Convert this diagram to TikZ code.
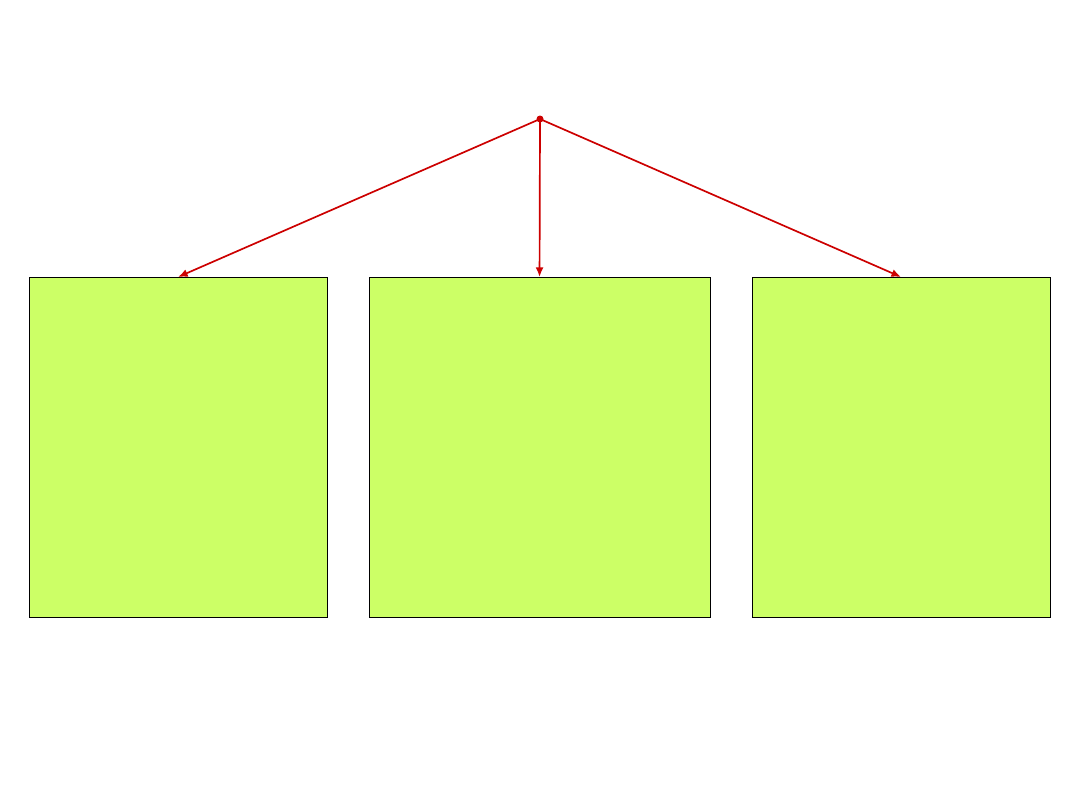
\documentclass[tikz,border=0pt]{standalone}
\usetikzlibrary{arrows.meta}
\definecolor{boxgreen}{HTML}{CCFF66}
\definecolor{arrowred}{HTML}{CC0000}
\begin{document}
\begin{tikzpicture}[x=0.025cm,y=-0.025cm,
                box/.style={draw=black, fill=boxgreen, line width=0.5pt, inner sep=0pt, outer sep=0pt, minimum height=8.5cm},
                link/.style={draw=arrowred, line width=1.2pt, -{Latex[length=2.4mm,width=2mm]}}]
    \useasboundingbox (0,0) rectangle (1080,810);

    \coordinate (top) at (540,119);
    \node[box, minimum width=7.45cm, anchor=north west] (left) at (29,277) {};
    \node[box, minimum width=8.525cm, anchor=north west] (middle) at (369,277) {};
    \node[box, minimum width=7.45cm, anchor=north west] (right) at (752,277) {};

    \fill[arrowred] (top) circle (3.5);
    \draw[link] (top) -- (left.north);
    \draw[link] (top) -- (middle.north);
    \draw[link] (top) -- (right.north);
\end{tikzpicture}
\end{document}
